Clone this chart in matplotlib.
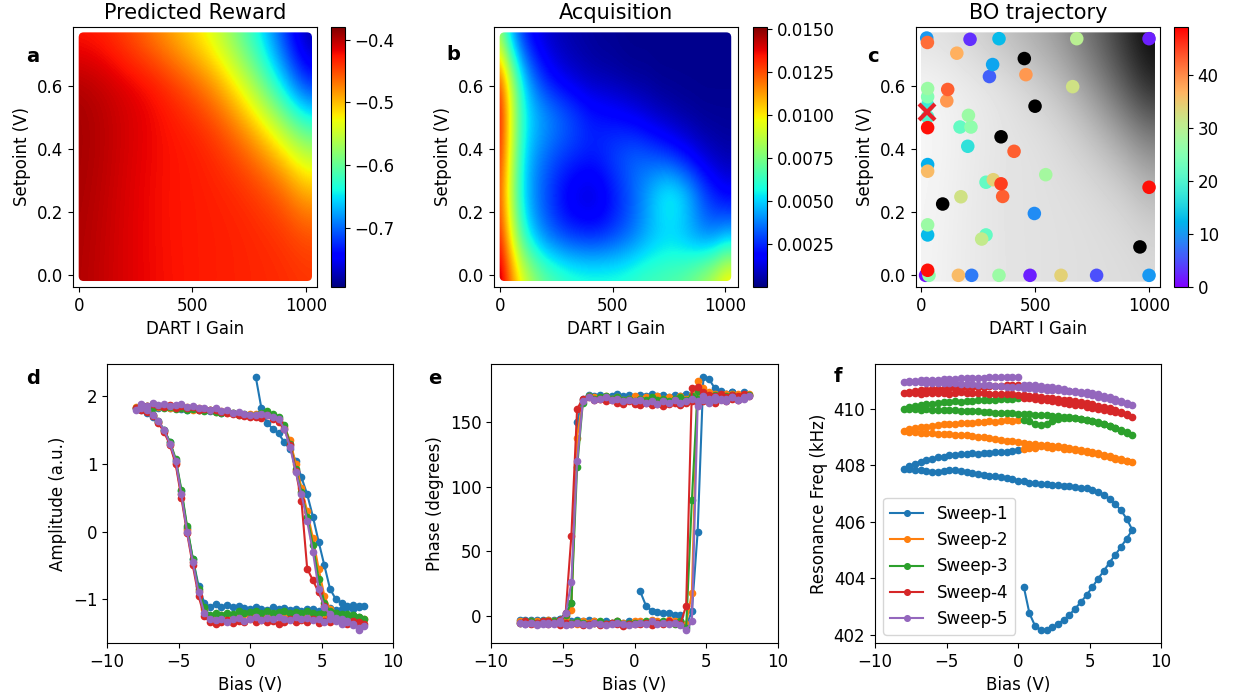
import numpy as np
import matplotlib
matplotlib.use("Agg")
import matplotlib.pyplot as plt
from matplotlib.patches import FancyBboxPatch
from matplotlib.ticker import FormatStrFormatter

# ---------------- BO surfaces ----------------
gain_grid = [0, 100, 200, 300, 400, 500, 600, 700, 800, 900, 1000]
setpoint_grid = [0.0, 0.15, 0.30, 0.45, 0.60, 0.75]
# predicted reward, rows follow setpoint_grid
reward = [
    [-0.398, -0.405, -0.413, -0.420, -0.425, -0.428, -0.430, -0.432, -0.434, -0.436, -0.440],
    [-0.397, -0.404, -0.413, -0.420, -0.426, -0.428, -0.430, -0.432, -0.436, -0.442, -0.455],
    [-0.395, -0.402, -0.412, -0.420, -0.426, -0.428, -0.432, -0.438, -0.450, -0.470, -0.510],
    [-0.394, -0.400, -0.410, -0.418, -0.425, -0.430, -0.442, -0.465, -0.500, -0.550, -0.600],
    [-0.396, -0.403, -0.412, -0.420, -0.435, -0.455, -0.482, -0.525, -0.585, -0.655, -0.728],
    [-0.428, -0.432, -0.447, -0.467, -0.490, -0.515, -0.545, -0.595, -0.648, -0.718, -0.782],
]

acq_gain_grid = [0, 50, 100, 150, 200, 250, 300, 350, 400, 450, 500,
                 550, 600, 650, 700, 750, 800, 850, 900, 950, 1000]
acq_setpoint_grid = [0.0, 0.125, 0.25, 0.375, 0.5, 0.625, 0.75]
# acquisition value (x 1e-3)
acquisition = [
    [14.6, 11.8, 9.6, 8.2, 7.2, 6.7, 6.3, 6.1, 6.0, 6.0, 6.0, 6.1, 6.3, 6.5, 6.6, 6.8, 7.0, 7.5, 8.2, 9.0, 10.2],
    [13.2, 9.6, 6.3, 4.6, 3.6, 3.0, 2.6, 2.4, 2.3, 2.4, 2.7, 3.1, 3.6, 4.2, 4.6, 4.7, 4.5, 4.0, 3.6, 3.7, 4.3],
    [12.4, 8.6, 5.3, 3.9, 3.0, 2.2, 1.5, 1.1, 1.0, 1.3, 2.0, 2.7, 3.5, 4.4, 5.4, 6.0, 5.6, 4.6, 3.3, 2.4, 1.8],
    [13.0, 9.2, 5.6, 4.2, 3.5, 3.0, 2.7, 2.5, 2.4, 2.6, 3.0, 3.3, 3.5, 3.3, 3.0, 2.6, 2.1, 1.6, 1.1, 0.8, 0.6],
    [13.6, 9.6, 6.1, 5.0, 4.4, 3.9, 3.4, 2.9, 2.4, 2.2, 2.0, 1.8, 1.5, 1.2, 0.9, 0.7, 0.5, 0.4, 0.3, 0.3, 0.3],
    [12.6, 8.8, 5.4, 3.5, 2.3, 1.6, 1.2, 0.9, 0.7, 0.6, 0.5, 0.4, 0.3, 0.3, 0.2, 0.2, 0.2, 0.2, 0.2, 0.2, 0.2],
    [8.0, 4.6, 2.6, 1.6, 1.1, 0.8, 0.6, 0.5, 0.4, 0.3, 0.3, 0.2, 0.2, 0.2, 0.2, 0.2, 0.2, 0.2, 0.2, 0.2, 0.2],
]

# BO trajectory: sampled gain, setpoint and iteration
traj_gain = [25, 28, 215, 342, 683, 1000, 157, 314, 300, 460, 665, 117, 113, 29, 29, 29, 29, 29,
             208, 171, 219, 205, 408, 29, 29, 547, 285, 317, 351, 358, 175, 497, 1000, 29, 29,
             285, 266, 29, 20, 35, 164, 222, 342, 478, 614, 770, 1000]
traj_setpoint = [0.752, 0.738, 0.748, 0.750, 0.750, 0.750, 0.704, 0.668, 0.630, 0.636, 0.598,
                 0.589, 0.553, 0.592, 0.566, 0.539, 0.502, 0.468, 0.507, 0.470, 0.470, 0.409,
                 0.393, 0.351, 0.330, 0.319, 0.295, 0.303, 0.290, 0.250, 0.249, 0.196, 0.279,
                 0.160, 0.128, 0.128, 0.115, 0.016, 0.0, 0.0, 0.0, 0.0, 0.0, 0.0, 0.0, 0.0, 0.0]
traj_iter = [10, 42, 3, 13, 30, 2, 37, 11, 6, 39, 32, 43, 39, 27, 25, 18, 20, 48, 27, 22, 26, 17,
             43, 12, 36, 28, 22, 34, 45, 43, 32, 9, 48, 27, 13, 22, 31, 48, 1, 26, 36, 8, 27, 2,
             34, 5, 10]
seed_gain = [453, 500, 351, 95, 960]
seed_setpoint = [0.687, 0.536, 0.439, 0.226, 0.090]
best_gain, best_setpoint = 28, 0.518

# ---------------- hysteresis sweeps ----------------
bias_out = [0.4, 0.8, 1.2, 1.6, 2.0, 2.4, 2.8, 3.2, 3.6, 4.0,
            4.4, 4.8, 5.2, 5.6, 6.0, 6.4, 6.8, 7.2, 7.6, 8.0]
bias_back = [7.6, 7.2, 6.8, 6.4, 6.0, 5.6, 5.2, 4.8, 4.4, 4.0,
             3.6, 3.2, 2.8, 2.4, 2.0, 1.6, 1.2, 0.8, 0.4, 0.0,
             -0.4, -0.8, -1.2, -1.6, -2.0, -2.4, -2.8, -3.2, -3.6, -4.0,
             -4.4, -4.8, -5.2, -5.6, -6.0, -6.4, -6.8, -7.2, -7.6, -8.0]
bias_return = [-7.6, -7.2, -6.8, -6.4, -6.0, -5.6, -5.2, -4.8, -4.4, -4.0,
               -3.6, -3.2, -2.8, -2.4, -2.0, -1.6, -1.2, -0.8, -0.4, 0.0]
bias = bias_out + bias_back + bias_return

amp_1 = [2.29, 1.82, 1.60, 1.52, 1.45, 1.32, 1.22, 1.05, 0.80, 0.55, 0.22, -0.15, -0.50, -0.85, -1.00, -1.05, -1.10, -1.08, -1.12, -1.10,
         -1.10, -1.15, -1.12, -1.14, -1.16, -1.13, -1.15, -1.17, -1.14, -1.15, -1.18, -1.14, -1.16, -1.13, -1.15, -1.12, -1.16, -1.14, -1.12, -1.15,
         -1.13, -1.10, -1.12, -1.09, -1.11, -1.07, -1.12, -1.05, -0.80, -0.40, 0.05, 0.60, 1.05, 1.32, 1.50, 1.62, 1.70, 1.76, 1.80, 1.82,
         1.85, 1.84, 1.86, 1.83, 1.85, 1.82, 1.84, 1.81, 1.80, 1.82, 1.79, 1.80, 1.78, 1.79, 1.76, 1.77, 1.75, 1.74, 1.73, 1.72]
amp_2 = [1.74, 1.72, 1.75, 1.70, 1.66, 1.55, 1.35, 1.00, 0.65, 0.30, -0.10, -0.55, -0.95, -1.15, -1.22, -1.25, -1.27, -1.26, -1.30, -1.30,
         -1.28, -1.26, -1.25, -1.27, -1.24, -1.26, -1.23, -1.25, -1.27, -1.24, -1.26, -1.23, -1.25, -1.22, -1.24, -1.27, -1.25, -1.23, -1.26, -1.24,
         -1.22, -1.25, -1.23, -1.26, -1.24, -1.27, -1.25, -1.15, -0.88, -0.45, 0.02, 0.55, 1.02, 1.30, 1.48, 1.62, 1.72, 1.78, 1.82, 1.84,
         1.86, 1.85, 1.88, 1.84, 1.86, 1.83, 1.85, 1.82, 1.84, 1.80, 1.82, 1.79, 1.80, 1.77, 1.78, 1.75, 1.76, 1.74, 1.73, 1.74]
amp_3 = [1.72, 1.76, 1.78, 1.74, 1.70, 1.58, 1.30, 0.92, 0.58, 0.22, -0.20, -0.70, -1.05, -1.18, -1.20, -1.22, -1.25, -1.24, -1.27, -1.29,
         -1.26, -1.24, -1.22, -1.23, -1.20, -1.21, -1.19, -1.22, -1.20, -1.18, -1.21, -1.19, -1.20, -1.17, -1.19, -1.21, -1.18, -1.20, -1.17, -1.19,
         -1.21, -1.18, -1.22, -1.20, -1.23, -1.21, -1.24, -1.12, -0.85, -0.40, 0.08, 0.62, 1.08, 1.33, 1.50, 1.63, 1.73, 1.78, 1.81, 1.83,
         1.84, 1.86, 1.83, 1.85, 1.82, 1.84, 1.81, 1.83, 1.80, 1.81, 1.79, 1.78, 1.80, 1.77, 1.76, 1.78, 1.75, 1.73, 1.74, 1.72]
amp_4 = [1.70, 1.68, 1.72, 1.66, 1.62, 1.52, 1.28, 0.90, 0.45, -0.55, -0.72, -0.90, -1.10, -1.25, -1.30, -1.32, -1.35, -1.33, -1.38, -1.36,
         -1.34, -1.32, -1.36, -1.33, -1.31, -1.34, -1.32, -1.35, -1.30, -1.33, -1.31, -1.34, -1.30, -1.33, -1.36, -1.32, -1.34, -1.31, -1.33, -1.30,
         -1.34, -1.32, -1.35, -1.31, -1.33, -1.36, -1.34, -1.25, -0.95, -0.50, -0.02, 0.50, 1.00, 1.28, 1.47, 1.60, 1.71, 1.77, 1.80, 1.82,
         1.87, 1.85, 1.89, 1.86, 1.84, 1.87, 1.83, 1.85, 1.82, 1.84, 1.80, 1.81, 1.79, 1.80, 1.77, 1.75, 1.74, 1.72, 1.71, 1.70]
amp_5 = [1.72, 1.74, 1.72, 1.70, 1.66, 1.52, 1.25, 0.88, 0.55, 0.15, -0.30, -0.85, -1.12, -1.22, -1.28, -1.30, -1.32, -1.36, -1.46, -1.40,
         -1.42, -1.38, -1.34, -1.36, -1.32, -1.30, -1.33, -1.29, -1.31, -1.28, -1.30, -1.27, -1.31, -1.29, -1.26, -1.30, -1.28, -1.31, -1.27, -1.29,
         -1.32, -1.28, -1.30, -1.33, -1.29, -1.31, -1.30, -1.20, -0.90, -0.45, 0.00, 0.55, 1.05, 1.30, 1.50, 1.63, 1.72, 1.79, 1.83, 1.80,
         1.88, 1.86, 1.90, 1.87, 1.89, 1.85, 1.87, 1.88, 1.84, 1.86, 1.82, 1.83, 1.80, 1.82, 1.78, 1.80, 1.76, 1.77, 1.74, 1.73]

phase_1 = [19, 8, 4, 3, 2, 2, 1, 1, -8, 4, 65, 185, 183, 176, 174, 172, 173, 171, 173, 171,
           172, 171, 173, 172, 170, 172, 171, 173, 170, 171, 172, 170, 171, 169, 171, 170, 172, 170, 171, 169,
           171, 170, 172, 170, 169, 171, 170, 171, 168, 150, 10, 2, -2, -3, -4, -3, -4, -3, -4, -3,
           -3, -4, -3, -4, -3, -4, -2, -3, -4, -3, -4, -3, -4, -5, -4, -5, -4, -5, -4, -5]
phase_2 = [-4, -5, -3, -4, -5, -3, -4, -5, -6, 18, 182, 176, 173, 172, 171, 172, 170, 172, 171, 172,
           171, 170, 172, 169, 170, 171, 168, 170, 169, 171, 168, 170, 167, 169, 168, 170, 167, 169, 168, 170,
           168, 167, 169, 168, 170, 168, 169, 170, 167, 138, 5, 0, -3, -4, -5, -4, -5, -4, -5, -4,
           -4, -5, -4, -5, -3, -4, -5, -4, -5, -6, -4, -5, -4, -5, -6, -5, -4, -5, -6, -4]
phase_3 = [-5, -4, -6, -5, -4, -5, -6, -4, -9, 90, 174, 171, 170, 171, 169, 170, 171, 169, 170, 171,
           170, 169, 171, 168, 170, 169, 167, 169, 168, 170, 167, 169, 168, 166, 168, 167, 169, 167, 168, 166,
           168, 167, 169, 168, 170, 169, 168, 170, 165, 115, 10, 1, -3, -4, -5, -4, -5, -5, -4, -5,
           -5, -4, -6, -5, -4, -5, -4, -6, -5, -4, -5, -6, -5, -4, -6, -5, -4, -6, -5, -5]
phase_4 = [-6, -5, -7, -5, -6, -4, -5, -6, 8, 176, 177, 173, 171, 170, 172, 169, 171, 170, 172, 170,
           169, 167, 168, 166, 168, 165, 167, 166, 164, 166, 165, 163, 165, 164, 162, 164, 163, 165, 163, 164,
           166, 164, 165, 167, 166, 168, 167, 169, 168, 160, 62, 2, -3, -5, -4, -5, -6, -5, -4, -5,
           -5, -6, -5, -4, -6, -5, -7, -5, -6, -5, -7, -6, -5, -7, -6, -5, -6, -8, -6, -6]
phase_5 = [-5, -6, -4, -6, -5, -6, -5, -7, -11, -4, 162, 170, 168, 169, 167, 168, 169, 167, 169, 170,
           168, 167, 169, 166, 168, 167, 165, 167, 166, 168, 166, 165, 167, 165, 166, 164, 166, 165, 167, 166,
           167, 166, 168, 167, 169, 168, 167, 169, 166, 120, 26, 2, -4, -5, -6, -5, -6, -5, -6, -5,
           -6, -5, -7, -6, -5, -6, -5, -7, -6, -5, -6, -7, -5, -6, -7, -6, -5, -6, -7, -6]

freq_1 = [403.70, 402.75, 402.30, 402.15, 402.16, 402.25, 402.38, 402.52, 402.70, 402.92, 403.15, 403.40, 403.68, 403.98, 404.25, 404.55, 404.82, 405.10, 405.40, 405.70,
          406.10, 406.40, 406.62, 406.80, 406.95, 407.05, 407.12, 407.18, 407.20, 407.24, 407.25, 407.27, 407.30, 407.29, 407.32, 407.33, 407.36, 407.38, 407.42, 407.45,
          407.50, 407.54, 407.58, 407.60, 407.63, 407.66, 407.68, 407.72, 407.76, 407.80, 407.82, 407.81, 407.78, 407.76, 407.77, 407.80, 407.82, 407.83, 407.85, 407.86,
          407.95, 408.05, 408.12, 408.18, 408.22, 408.27, 408.30, 408.34, 408.35, 408.38, 408.40, 408.42, 408.41, 408.43, 408.42, 408.45, 408.47, 408.46, 408.50, 408.55]
freq_2 = [408.58, 408.62, 408.60, 408.66, 408.63, 408.60, 408.64, 408.58, 408.56, 408.52, 408.50, 408.46, 408.42, 408.38, 408.32, 408.27, 408.22, 408.18, 408.13, 408.10,
          408.14, 408.20, 408.26, 408.32, 408.37, 408.42, 408.46, 408.50, 408.54, 408.57, 408.60, 408.63, 408.66, 408.68, 408.70, 408.72, 408.73, 408.76, 408.78, 408.80,
          408.84, 408.87, 408.90, 408.93, 408.96, 408.98, 409.01, 409.03, 409.05, 409.06, 409.08, 409.09, 409.11, 409.10, 409.12, 409.14, 409.15, 409.16, 409.18, 409.20,
          409.26, 409.30, 409.34, 409.36, 409.38, 409.41, 409.44, 409.46, 409.47, 409.49, 409.50, 409.49, 409.52, 409.53, 409.55, 409.54, 409.56, 409.58, 409.57, 409.60]
freq_3 = [409.60, 409.55, 409.47, 409.42, 409.46, 409.55, 409.63, 409.66, 409.68, 409.66, 409.64, 409.60, 409.56, 409.50, 409.44, 409.37, 409.30, 409.22, 409.15, 409.08,
          409.16, 409.24, 409.32, 409.40, 409.46, 409.52, 409.57, 409.61, 409.64, 409.67, 409.69, 409.72, 409.73, 409.74, 409.76, 409.77, 409.79, 409.80, 409.81, 409.82,
          409.84, 409.85, 409.86, 409.86, 409.88, 409.89, 409.90, 409.91, 409.92, 409.92, 409.94, 409.95, 409.94, 409.95, 409.96, 409.97, 409.96, 409.97, 409.98, 409.98,
          410.04, 410.09, 410.12, 410.15, 410.18, 410.20, 410.23, 410.24, 410.26, 410.25, 410.27, 410.28, 410.30, 410.29, 410.31, 410.32, 410.33, 410.34, 410.35, 410.36]
freq_4 = [410.37, 410.36, 410.34, 410.31, 410.29, 410.26, 410.23, 410.21, 410.17, 410.14, 410.11, 410.07, 410.03, 410.00, 409.96, 409.92, 409.88, 409.83, 409.78, 409.72,
          409.80, 409.88, 409.95, 410.01, 410.06, 410.10, 410.15, 410.19, 410.23, 410.26, 410.29, 410.32, 410.34, 410.37, 410.39, 410.41, 410.44, 410.46, 410.47, 410.49,
          410.50, 410.52, 410.52, 410.51, 410.53, 410.55, 410.56, 410.54, 410.55, 410.57, 410.55, 410.53, 410.54, 410.56, 410.54, 410.55, 410.53, 410.54, 410.55, 410.56,
          410.60, 410.63, 410.65, 410.66, 410.68, 410.69, 410.71, 410.72, 410.73, 410.74, 410.75, 410.76, 410.77, 410.78, 410.79, 410.80, 410.81, 410.82, 410.82, 410.83]
freq_5 = [410.83, 410.84, 410.82, 410.80, 410.78, 410.75, 410.72, 410.68, 410.64, 410.60, 410.56, 410.52, 410.47, 410.42, 410.38, 410.33, 410.28, 410.22, 410.17, 410.12,
          410.20, 410.27, 410.33, 410.40, 410.45, 410.50, 410.55, 410.58, 410.60, 410.62, 410.63, 410.64, 410.66, 410.65, 410.67, 410.68, 410.70, 410.72, 410.73, 410.75,
          410.76, 410.78, 410.80, 410.80, 410.82, 410.84, 410.85, 410.86, 410.87, 410.88, 410.89, 410.90, 410.90, 410.91, 410.92, 410.92, 410.93, 410.94, 410.95, 410.95,
          410.97, 410.98, 411.00, 411.00, 411.02, 411.03, 411.04, 411.05, 411.06, 411.07, 411.08, 411.08, 411.10, 411.09, 411.11, 411.11, 411.12, 411.12, 411.13, 411.13]

sweep_labels = ["Sweep-1", "Sweep-2", "Sweep-3", "Sweep-4", "Sweep-5"]

W, H = 1233, 700
fig = plt.figure(figsize=(W / 100, H / 100), dpi=100)


def px_axes(x0, y0, x1, y1):
    return fig.add_axes([x0 / W, 1 - y1 / H, (x1 - x0) / W, (y1 - y0) / H])


def draw_field(ax, field, xs, ys, cmap, vmin, vmax, xlim, ylim):
    dx = xs[1] - xs[0]
    dy = ys[1] - ys[0]
    im = ax.imshow(np.array(field), origin="lower", cmap=cmap, vmin=vmin, vmax=vmax,
                   extent=[xs[0] - dx / 2, xs[-1] + dx / 2, ys[0] - dy / 2, ys[-1] + dy / 2],
                   aspect="auto", interpolation="bicubic")
    ax.set_xlim(xlim)
    ax.set_ylim(ylim)
    # rounded outline of the sampled domain
    pos = ax.get_position()
    asp = ((ylim[1] - ylim[0]) / (pos.height * H)) / ((xlim[1] - xlim[0]) / (pos.width * W))
    box = FancyBboxPatch((0, -0.02), 1026, 0.79, boxstyle="round,pad=0,rounding_size=22",
                         mutation_aspect=asp, transform=ax.transData)
    im.set_clip_path(box)
    ax.set_xticks([0, 500, 1000])
    ax.set_yticks([0.0, 0.2, 0.4, 0.6])
    ax.set_xlabel("DART I Gain", fontsize=12)
    ax.set_ylabel("Setpoint (V)", fontsize=12)
    ax.tick_params(labelsize=12)
    return im


rmin, rmax = -0.794, -0.380

# a: predicted reward
ax_a = px_axes(73, 27, 317, 287)
im_a = draw_field(ax_a, reward, gain_grid, setpoint_grid, "jet", rmin, rmax, (-25, 1048), (-0.039, 0.787))
ax_a.set_title("Predicted Reward", fontsize=15)
cb_a = fig.colorbar(im_a, cax=px_axes(331, 27, 345, 287))
cb_a.set_ticks([-0.4, -0.5, -0.6, -0.7])
cb_a.ax.tick_params(labelsize=12)

# b: acquisition
ax_b = px_axes(494, 27, 738, 287)
im_b = draw_field(ax_b, np.array(acquisition) * 1e-3, acq_gain_grid, acq_setpoint_grid, "jet",
                  0.0, 0.0151, (-25, 1056), (-0.039, 0.787))
ax_b.set_title("Acquisition", fontsize=15)
cb_b = fig.colorbar(im_b, cax=px_axes(753, 27, 767, 287))
cb_b.set_ticks([0.0025, 0.005, 0.0075, 0.01, 0.0125, 0.015])
cb_b.ax.yaxis.set_major_formatter(FormatStrFormatter("%.4f"))
cb_b.ax.tick_params(labelsize=12)

# c: BO trajectory over the reward surface
ax_c = px_axes(916, 27, 1160, 287)
draw_field(ax_c, reward, gain_grid, setpoint_grid, "gray", rmin, rmax, (-22, 1048), (-0.037, 0.787))
ax_c.set_title("BO trajectory", fontsize=15)
order = np.argsort(traj_iter, kind="stable")
sc = ax_c.scatter(np.array(traj_gain)[order], np.array(traj_setpoint)[order],
                  c=np.array(traj_iter)[order], cmap="rainbow", vmin=0, vmax=49, s=95,
                  edgecolors="none", zorder=3)
ax_c.scatter(seed_gain, seed_setpoint, c="black", s=95, edgecolors="none", zorder=3)
ax_c.plot(best_gain, best_setpoint, marker="x", color="#e8202a", markersize=11, mew=3,
          linestyle="none", zorder=4)
cb_c = fig.colorbar(sc, cax=px_axes(1174, 27, 1188, 287))
cb_c.set_ticks([0, 10, 20, 30, 40])
cb_c.ax.tick_params(labelsize=12)

# d, e, f: hysteresis loops
amps = [amp_1, amp_2, amp_3, amp_4, amp_5]
phases = [phase_1, phase_2, phase_3, phase_4, phase_5]
freqs = [freq_1, freq_2, freq_3, freq_4, freq_5]

ax_d = px_axes(107, 364, 393, 643)
ax_e = px_axes(491, 364, 778, 643)
ax_f = px_axes(875, 364, 1161, 643)
for ax, series, ylab in [(ax_d, amps, "Amplitude (a.u.)"),
                         (ax_e, phases, "Phase (degrees)"),
                         (ax_f, freqs, "Resonance Freq (kHz)")]:
    for vals, lab in zip(series, sweep_labels):
        ax.plot(bias, vals, marker="o", markersize=4.5, linewidth=1.5, label=lab)
    ax.set_xlim(-10, 10)
    ax.set_xticks([-10, -5, 0, 5, 10])
    ax.set_xlabel("Bias (V)", fontsize=12)
    ax.set_ylabel(ylab, fontsize=12)
    ax.tick_params(labelsize=12)

ax_d.set_yticks([-1, 0, 1, 2])
ax_e.set_yticks([0, 50, 100, 150])
ax_f.set_yticks([402, 404, 406, 408, 410])
ax_f.legend(loc="lower left", fontsize=12, markerscale=0.9)

# panel letters
for letter, (x, y) in zip("abcdef", [(33, 56), (453, 55), (873, 57), (33, 378), (435, 378), (838, 377)]):
    fig.text(x / W, 1 - y / H, letter, fontsize=14, fontweight="bold", ha="center", va="center")

fig.savefig("out.png", dpi=100)
